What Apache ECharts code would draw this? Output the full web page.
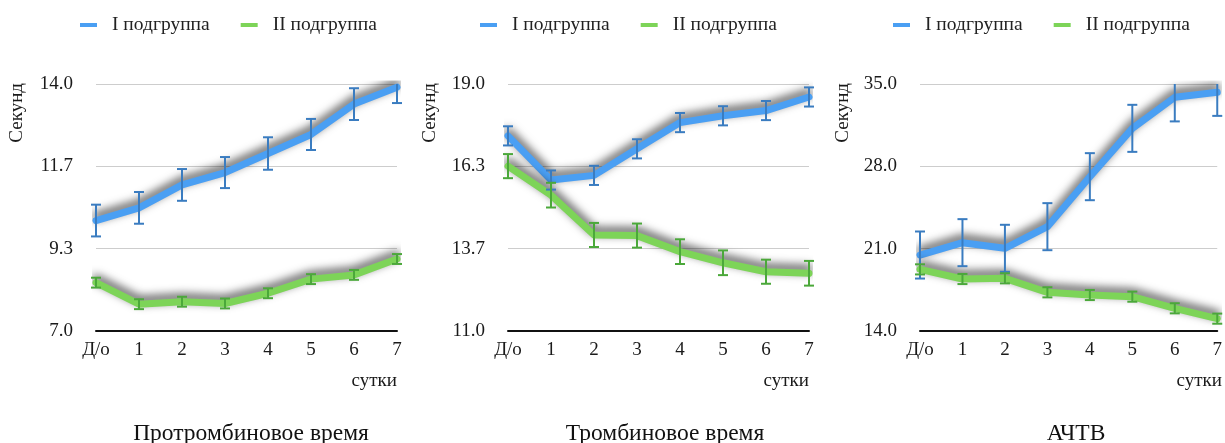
<!DOCTYPE html>
<html><head><meta charset="utf-8">
<script src="https://cdn.jsdelivr.net/npm/echarts@6/dist/echarts.min.js"></script>
<style>html,body{margin:0;padding:0;background:#fff}#c{width:1225px;height:443px}</style>
</head><body><div id="c"></div>
<script>
const categories = ['Д/о', '1', '2', '3', '4', '5', '6', '7'];
const seriesNames = ['I подгруппа', 'II подгруппа'];
const chartTitles = ['Протромбиновое время', 'Тромбиновое время', 'АЧТВ'];
const yAxisTitle = 'Секунд';
const xAxisTitle = 'сутки';

// Протромбиновое время
const ptGroup1 = [10.13, 10.49, 11.14, 11.49, 12.03, 12.57, 13.43, 13.91];
const ptGroup1Err = [0.45, 0.45, 0.45, 0.44, 0.46, 0.44, 0.45, 0.45];
const ptGroup2 = [8.37, 7.76, 7.83, 7.78, 8.07, 8.47, 8.59, 9.04];
const ptGroup2Err = [0.14, 0.14, 0.14, 0.14, 0.14, 0.14, 0.14, 0.14];
const ptTicks = [7.0, 9.333, 11.667, 14.0];

// Тромбиновое время
const ttGroup1 = [17.32, 15.89, 16.04, 16.90, 17.75, 17.97, 18.14, 18.58];
const ttGroup1Err = [0.31, 0.31, 0.31, 0.31, 0.31, 0.31, 0.31, 0.31];
const ttGroup2 = [16.34, 15.40, 14.11, 14.09, 13.57, 13.21, 12.92, 12.87];
const ttGroup2Err = [0.39, 0.40, 0.39, 0.39, 0.40, 0.40, 0.39, 0.40];
const ttTicks = [11.0, 13.667, 16.333, 19.0];

// АЧТВ
const apGroup1 = [20.46, 21.51, 21.03, 22.87, 27.12, 31.23, 33.87, 34.29];
const apGroup1Err = [2.0, 2.0, 2.0, 2.0, 2.0, 2.0, 2.05, 2.0];
const apGroup2 = [19.24, 18.42, 18.48, 17.29, 17.06, 16.92, 15.93, 15.05];
const apGroup2Err = [0.43, 0.43, 0.43, 0.43, 0.43, 0.43, 0.43, 0.43];
const apTicks = [14.0, 21.0, 28.0, 35.0];

const panels = [
  { g1: ptGroup1, e1: ptGroup1Err, g2: ptGroup2, e2: ptGroup2Err, ticks: ptTicks },
  { g1: ttGroup1, e1: ttGroup1Err, g2: ttGroup2, e2: ttGroup2Err, ticks: ttTicks },
  { g1: apGroup1, e1: apGroup1Err, g2: apGroup2, e2: apGroup2Err, ticks: apTicks }
];

const FONT = 'Liberation Serif';
const BLUE = '#4A9FF3';
const BLUE_ERR = '#3A7CC0';
const GREEN = '#7DD458';
const GREEN_ERR = '#4BA83A';

const layout = [
  { left: 96, width: 301, legendLeft: 80, yTitleX: 17, titleX: 246 },
  { left: 508, width: 301, legendLeft: 480, yTitleX: 430, titleX: 660 },
  { left: 920, width: 302, legendLeft: 893, yTitleX: 843, titleX: 1071 }
];
const GRID_TOP = 84, GRID_H = 247;

function errRender(color, yMax) {
  return function (params, api) {
    const x = api.value(0);
    const lo = api.value(1);
    let hi = api.value(2);
    const clipped = hi > yMax;
    if (clipped) hi = yMax;
    const pLo = api.coord([x, lo]);
    const pHi = api.coord([x, hi]);
    const hw = 5;
    const style = { stroke: color, lineWidth: 2, fill: null };
    const children = [
      { type: 'line', shape: { x1: pLo[0], y1: pLo[1], x2: pHi[0], y2: pHi[1] }, style: style },
      { type: 'line', shape: { x1: pLo[0] - hw, y1: pLo[1], x2: pLo[0] + hw, y2: pLo[1] }, style: style }
    ];
    if (!clipped) {
      children.push({ type: 'line', shape: { x1: pHi[0] - hw, y1: pHi[1], x2: pHi[0] + hw, y2: pHi[1] }, style: style });
    }
    return { type: 'group', children: children };
  };
}

const grid = [], xAxis = [], yAxis = [], series = [], legend = [], title = [], graphic = [];
panels.forEach(function (p, i) {
  const L = layout[i];
  const yMin = p.ticks[0], yMax = p.ticks[p.ticks.length - 1];
  grid.push({ left: L.left, top: GRID_TOP, width: L.width, height: GRID_H, containLabel: false });
  xAxis.push({
    type: 'category', gridIndex: i, data: categories, boundaryGap: false,
    axisLine: { show: true, lineStyle: { color: '#111', width: 2 } },
    axisTick: { show: false },
    axisLabel: { fontFamily: FONT, fontSize: 19, color: '#1a1a1a', margin: 10, interval: 0 },
    splitLine: { show: false }
  });
  yAxis.push({
    type: 'value', gridIndex: i, min: yMin, max: yMax,
    axisLine: { show: false },
    axisTick: { show: false, customValues: p.ticks },
    axisLabel: {
      customValues: p.ticks, fontFamily: FONT, fontSize: 19, color: '#1a1a1a', margin: 23,
      formatter: function (v) { return Number(v).toFixed(1); }
    },
    splitLine: { show: true, lineStyle: { color: '#cdcdcd', width: 1 } }
  });
  const lineCommon = {
    type: 'line', xAxisIndex: i, yAxisIndex: i, showSymbol: false, symbol: 'none',
    smooth: false, z: 2, silent: true, animation: false
  };
  series.push(Object.assign({}, lineCommon, {
    name: seriesNames[0], data: p.g1, color: BLUE,
    lineStyle: { color: BLUE, width: 7, join: 'round', cap: 'round',
      shadowColor: 'rgba(0,0,0,0.75)', shadowBlur: 10, shadowOffsetY: -4 }
  }));
  series.push(Object.assign({}, lineCommon, {
    name: seriesNames[1], data: p.g2, color: GREEN,
    lineStyle: { color: GREEN, width: 7, join: 'round', cap: 'round',
      shadowColor: 'rgba(0,0,0,0.75)', shadowBlur: 10, shadowOffsetY: -4 }
  }));
  series.push({
    type: 'custom', xAxisIndex: i, yAxisIndex: i, z: 3, silent: true, animation: false,
    renderItem: errRender(BLUE_ERR, yMax),
    data: p.g1.map(function (v, k) { return [k, v - p.e1[k], v + p.e1[k]]; })
  });
  series.push({
    type: 'custom', xAxisIndex: i, yAxisIndex: i, z: 3, silent: true, animation: false,
    renderItem: errRender(GREEN_ERR, yMax),
    data: p.g2.map(function (v, k) { return [k, v - p.e2[k], v + p.e2[k]]; })
  });
  legend.push({
    left: L.legendLeft, top: 15, padding: 0, icon: 'rect', itemWidth: 17, itemHeight: 4, itemGap: 31,
    data: seriesNames, selectedMode: false,
    textStyle: { fontFamily: FONT, fontSize: 19.5, color: '#222', padding: [0, 0, 0, 10] }
  });
  title.push({
    text: chartTitles[i], left: L.titleX, textAlign: 'center', top: 417,
    textStyle: { fontFamily: FONT, fontSize: 23.5, fontWeight: 'normal', color: '#111' }
  });
  graphic.push({
    type: 'text', x: L.yTitleX, y: 83, rotation: Math.PI / 2,
    style: { text: yAxisTitle, fontFamily: FONT, fontSize: 19, fill: '#1a1a1a',
      textAlign: 'right', textVerticalAlign: 'middle' }
  });
  graphic.push({
    type: 'text', x: L.left + L.width, y: 381,
    style: { text: xAxisTitle, fontFamily: FONT, fontSize: 19, fill: '#1a1a1a',
      textAlign: 'right', textVerticalAlign: 'middle' }
  });
});

const chart = echarts.init(document.getElementById('c'), null, { renderer: 'canvas' });
chart.setOption({
  animation: false,
  backgroundColor: '#fff',
  grid: grid, xAxis: xAxis, yAxis: yAxis, series: series,
  legend: legend, title: title, graphic: graphic
});
</script>
</body></html>
